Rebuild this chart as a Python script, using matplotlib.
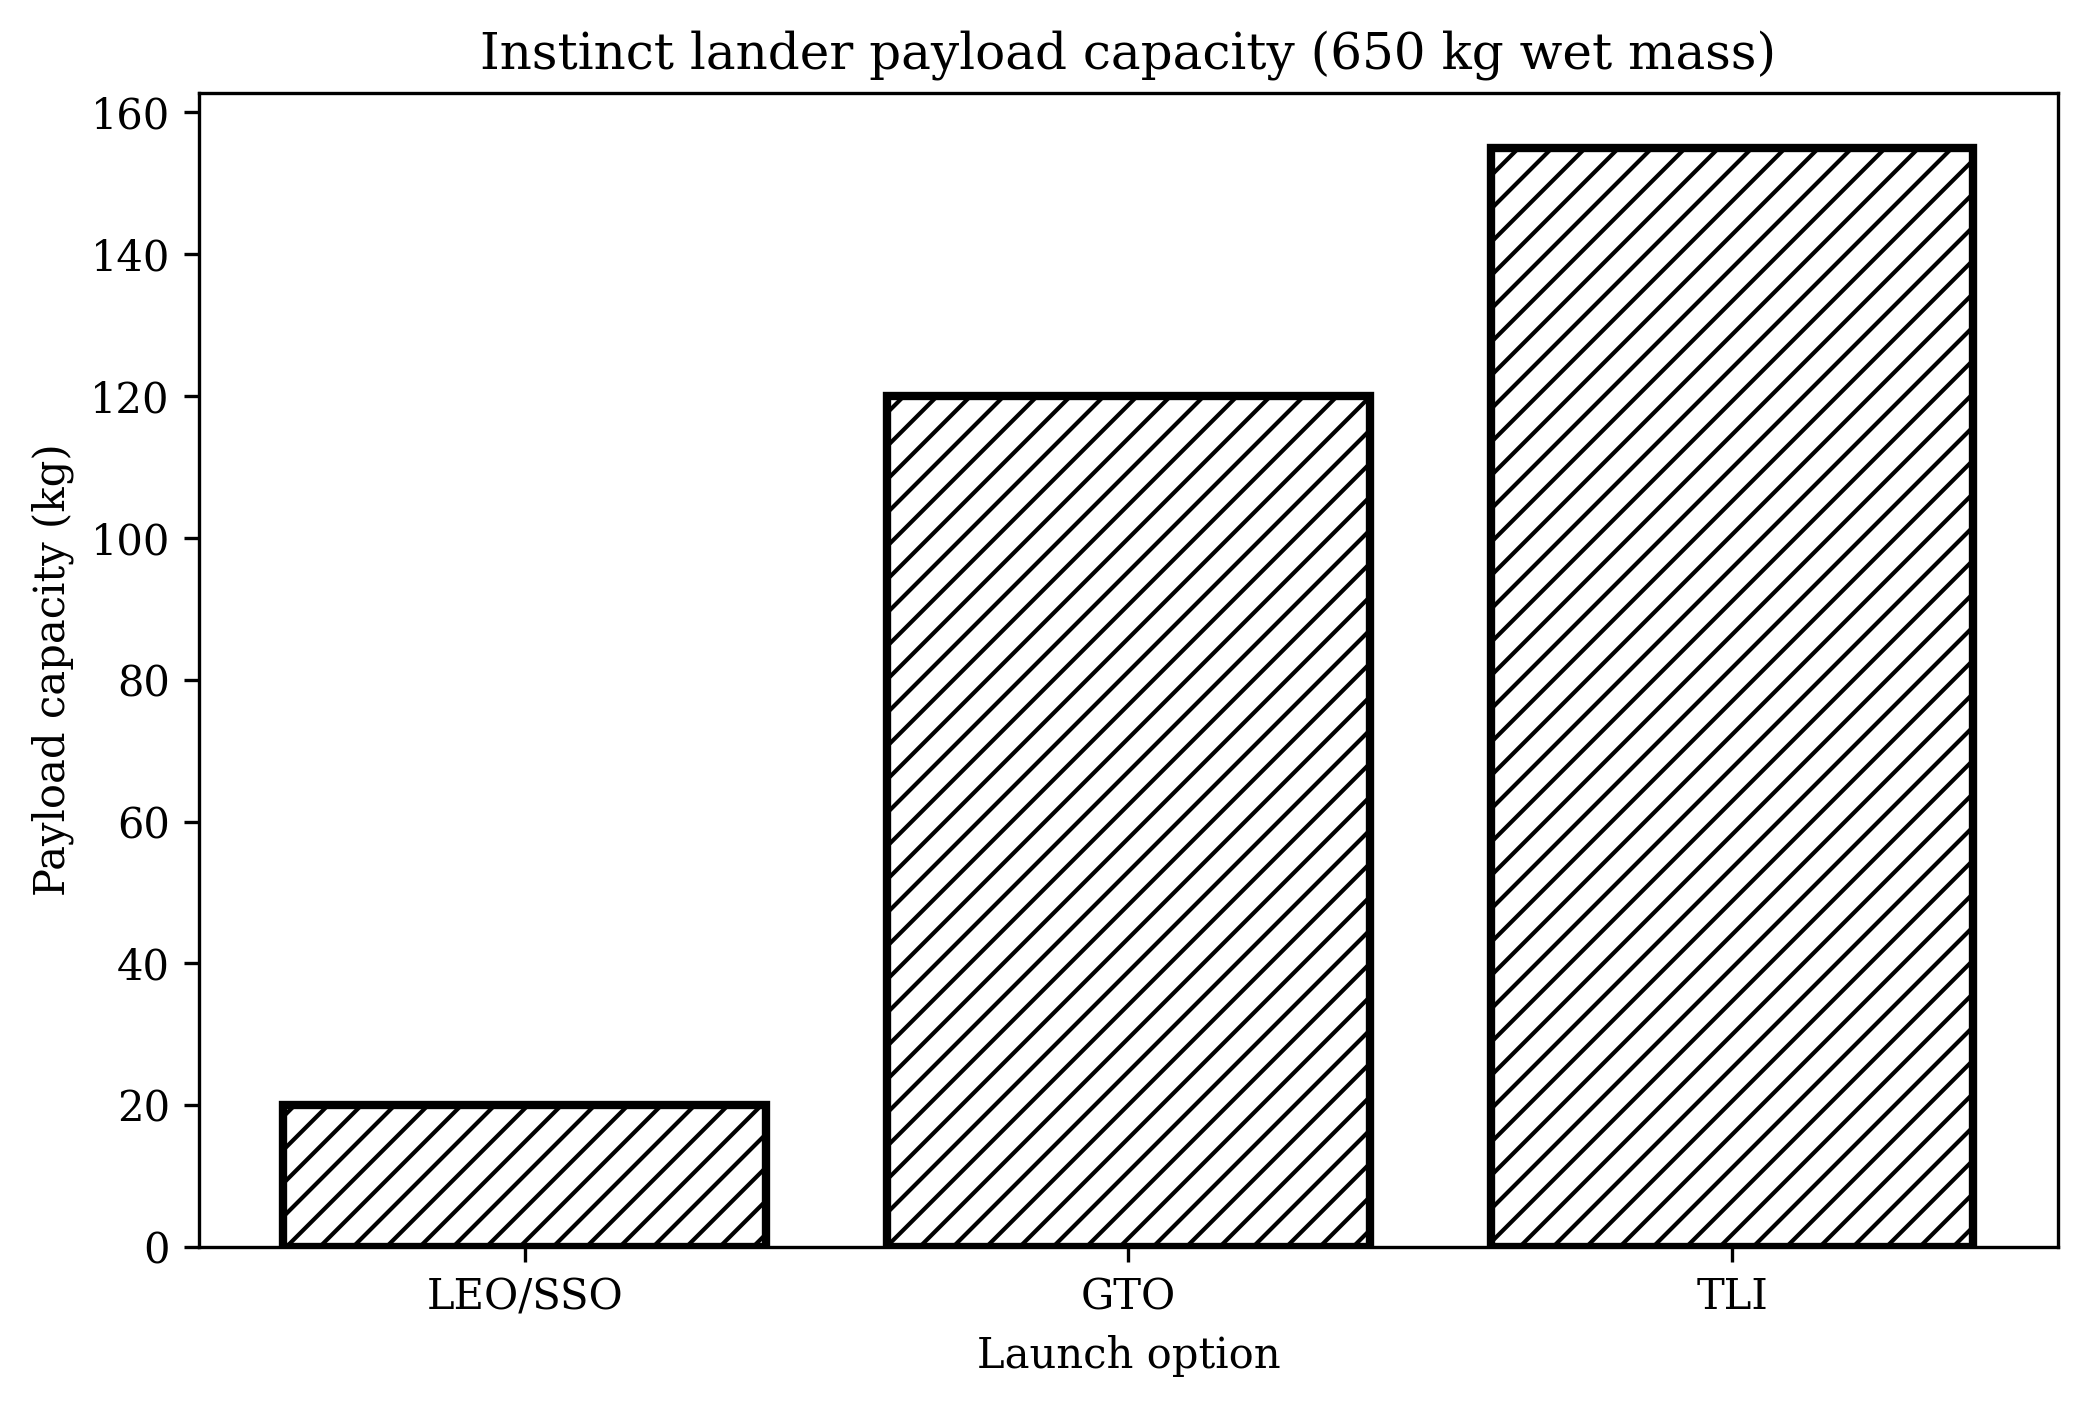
import matplotlib
matplotlib.use("Agg")
import matplotlib.pyplot as plt

categories = ["LEO/SSO", "GTO", "TLI"]
payload_kg = [20, 120, 155]

plt.rcParams['font.family'] = ['DejaVu Serif']
plt.rcParams['hatch.linewidth'] = 1.0

DPI = 300
W, H = 2087, 1408
fig = plt.figure(figsize=(W / DPI, H / DPI), dpi=DPI)
L, R, T, B = 199, 2058, 93, 1247
ax = fig.add_axes([L / W, 1 - B / H, (R - L) / W, (B - T) / H])

ax.bar(categories, payload_kg, width=0.8, color="white", edgecolor="black",
       hatch="///", linewidth=2.0)

ax.set_title("Instinct lander payload capacity (650 kg wet mass)")
ax.set_xlabel("Launch option")
ax.set_ylabel("Payload capacity (kg)")

fig.savefig("out.png", dpi=DPI)
